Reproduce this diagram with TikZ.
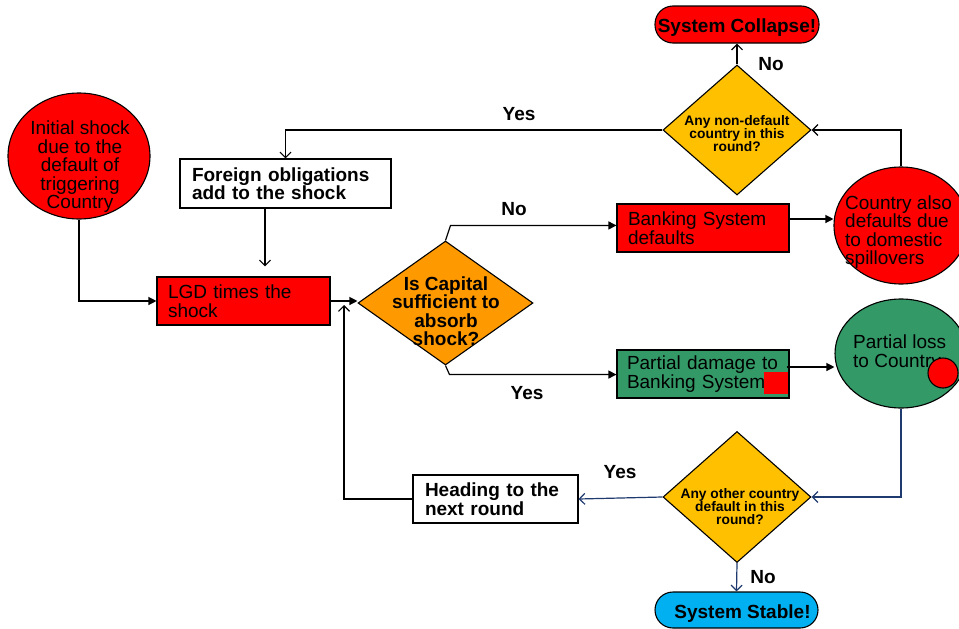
\documentclass[tikz,border=0pt]{standalone}
\usepackage{fontspec}
\setmainfont{Liberation Sans}
\usetikzlibrary{shapes.geometric,arrows.meta}
\newcommand\fbig{\fontsize{19}{18.5}\selectfont}
\newcommand\fsmall{\fontsize{13.8}{13}\selectfont}
\definecolor{cred}{HTML}{FF0000}
\definecolor{corange}{HTML}{FF9900}
\definecolor{cyellow}{HTML}{FFC000}
\definecolor{cgreen}{HTML}{339966}
\definecolor{cblue}{HTML}{00B0F0}
\definecolor{cline}{HTML}{1F3A6E}
\tikzset{
  base/.style={draw=black, line width=1.1pt, inner sep=0pt},
  boxnode/.style={base, rectangle, align=left, font=\fbig, inner ysep=0pt},
  ellnode/.style={base, ellipse},
  dianode/.style={base, diamond},
  pill/.style={base, rectangle, rounded corners=18pt, font=\fbig\bfseries, text height=16.6pt, text depth=0pt},
  txt/.style={inner sep=0pt, font=\fbig},
  dtxt/.style={inner sep=0pt, font=\fsmall\bfseries, align=center},
  lbl/.style={inner sep=0pt, font=\fbig\bfseries},
  oa/.style={line width=1.2pt, draw=black, -{Straight Barb[length=5.5pt,width=11pt]}},
  ob/.style={line width=1.2pt, draw=cline, -{Straight Barb[length=5.5pt,width=11pt]}},
  fa/.style={line width=1.2pt, draw=black, -{Triangle[length=8pt,width=8pt]}},
}
\begin{document}
\begin{tikzpicture}[x=1pt,y=-1pt]
\useasboundingbox (0,0) rectangle (959,629);

% nodes
\node[pill, fill=cred, minimum width=164pt, minimum height=37pt] (collapse) at (737,24.5) {System Collapse!};
\node[pill, fill=cblue, minimum width=163pt, minimum height=36pt] (stable) at (736.5,610) {\hspace*{12pt}System Stable!};

\node[dianode, fill=cyellow, minimum width=148pt, minimum height=130pt] (topdia) at (737,130) {};
\node[dtxt] (topdiaT) at (737,134) {Any non-default\\country in this\\round?};

\node[dianode, fill=cyellow, minimum width=148pt, minimum height=131pt] (botdia) at (737,497) {};
\node[dtxt] (botdiaT) at (740,507) {Any other country\\default in this\\round?};

\node[dianode, fill=corange, minimum width=175pt, minimum height=124pt] (capdia) at (445.5,303) {};
\node[dtxt, font=\fbig\bfseries] (capdiaT) at (446,311) {Is Capital\\sufficient to\\absorb\\shock?};

\node[ellnode, fill=cred, minimum width=142pt, minimum height=126pt] (initial) at (79,156) {};
\node[txt, align=center] (initialT) at (80,167) {Initial shock\\due to the\\default of\\triggering\\Country};

\node[ellnode, fill=cred, minimum width=134pt, minimum height=117pt] (country) at (901,225.5) {};
\node[txt, align=left, anchor=west] (countryT) at (845,232) {Country also\\defaults due\\to domestic\\spillovers};

\node[ellnode, fill=cgreen, minimum width=132pt, minimum height=109pt] (ploss) at (901,353.5) {};
\node[txt, align=left, anchor=west] (plossT) at (853,353) {Partial loss\\to Country};
\node[base, circle, fill=cred, minimum size=30pt] (dot) at (943,373) {};

\node[boxnode, fill=white, font=\fbig\bfseries, minimum width=211pt, minimum height=49pt, text width=187pt, inner xsep=12pt] (foreign) at (285.5,183.5) {Foreign obligations\\add to the shock};
\node[boxnode, fill=cred, minimum width=173pt, minimum height=48pt, text width=151pt, inner xsep=11pt] (lgd) at (243.5,301) {LGD times the\\shock};
\node[boxnode, fill=cred, minimum width=172pt, minimum height=48pt, text width=150pt, inner xsep=11pt] (banking) at (703,228) {Banking System\\defaults};
\node[boxnode, fill=cgreen, minimum width=172pt, minimum height=48pt, text width=156pt, inner xsep=8pt] (pdam) at (703,374) {\hspace*{2pt}Partial damage to\\\hspace*{2pt}Banking System};
\node[rectangle, fill=cred, inner sep=0pt, minimum width=24pt, minimum height=22pt] (sq) at (776,383) {};
\node[boxnode, fill=white, font=\fbig\bfseries, minimum width=165pt, minimum height=48pt, text width=141pt, inner xsep=12pt] (heading) at (495.5,499) {Heading to the\\next round};

% labels
\node[lbl] (l1) at (519,114) {Yes};
\node[lbl] (l2) at (514,209) {No};
\node[lbl] (l3) at (527,393) {Yes};
\node[lbl] (l4) at (620,472) {Yes};
\node[lbl] (l5) at (771,64) {No};
\node[lbl] (l6) at (763,577) {No};

% connectors
\draw[oa] (topdia.north) -- (collapse.south);
\draw[oa] (country.north) |- (topdia.east);
\draw[oa] (topdia.west) -| (foreign.north);
\draw[oa, shorten >=10pt] (foreign.south -| 265,0) -- (lgd.north -| 265,0);
\draw[fa] (initial.south) |- (lgd.west);
\draw[fa] (lgd.east) -- (lgd.east -| capdia.west);
\draw[fa] (capdia.north) -- ++(5,-15) coordinate (nb) -- (nb -| banking.west);
\draw[fa] (capdia.south) -- ++(4,9) coordinate (yb) -- (yb -| pdam.west);
\draw[fa] ([yshift=9pt]banking.east) -- ([yshift=9pt]banking.east -| country.west);
\draw[fa] ([yshift=7pt,xshift=-3pt]pdam.east) -- ([yshift=7pt]pdam.east -| ploss.west);
\draw[ob] (ploss.south) |- (botdia.east);
\draw[ob] (botdia.west) -- (heading.east);
\draw[ob] (botdia.south) -- (stable.north);
\coordinate (upend) at (344,305);
\draw[oa] (heading.west) -| (upend);
\end{tikzpicture}
\end{document}
